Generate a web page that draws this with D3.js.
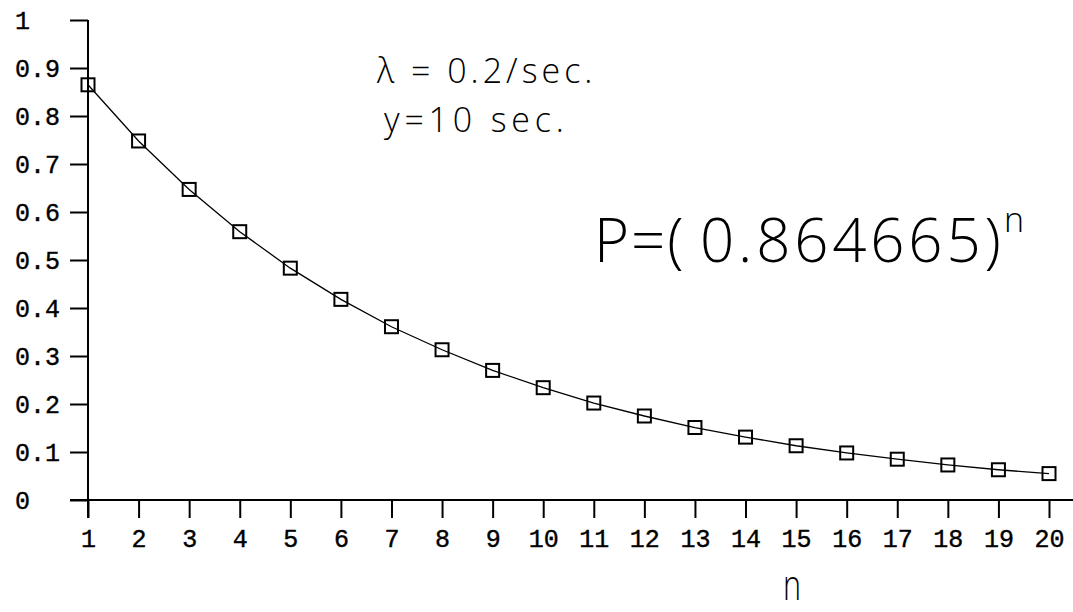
<!DOCTYPE html>
<html lang="en">
<head>
  <meta charset="UTF-8">
  <title>P = (0.864665)^n</title>
  <script src="https://d3js.org/d3.v7.min.js"></script>
  <style>
    body { margin: 0; background: #fff; }
    .tick text { font-family: "Liberation Mono", monospace; font-size: 25px; fill: #000; stroke: #000; stroke-width: 0.4px; }
    .note { font-family: "Open Sans", sans-serif; font-weight: 300; fill: #000; white-space: pre; }
  </style>
</head>
<body>
  <div id="chart"></div>

  <script>
    // values
    const nValues = [1, 2, 3, 4, 5, 6, 7, 8, 9, 10, 11, 12, 13, 14, 15, 16, 17, 18, 19, 20];
    const pValues = [0.865, 0.748, 0.647, 0.559, 0.483, 0.418, 0.361, 0.313, 0.270, 0.234,
                     0.202, 0.175, 0.151, 0.131, 0.113, 0.098, 0.085, 0.073, 0.063, 0.055];
    const yTicks = [0, 0.1, 0.2, 0.3, 0.4, 0.5, 0.6, 0.7, 0.8, 0.9, 1];
    const xTicks = nValues;

    const width = 1073;
    const height = 612;

    const x = d3.scaleLinear().domain([1, 20]).range([88, 1049]);
    const y = d3.scaleLinear().domain([0, 1]).range([500, 20]);

    const svg = d3.select("#chart")
      .append("svg")
      .attr("width", width)
      .attr("height", height);

    // axis lines (drawn past the plot like the original)
    svg.append("line")
      .attr("x1", 70).attr("x2", width)
      .attr("y1", y(0)).attr("y2", y(0))
      .attr("stroke", "#000").attr("stroke-width", 2);
    svg.append("line")
      .attr("x1", x(1)).attr("x2", x(1))
      .attr("y1", y(1)).attr("y2", y(0) + 18)
      .attr("stroke", "#000").attr("stroke-width", 2);

    // y axis
    const yAxis = svg.append("g")
      .attr("transform", "translate(" + x(1) + ",0)")
      .call(d3.axisLeft(y).tickValues(yTicks).tickSize(18).tickFormat(d => String(d)));
    yAxis.select(".domain").remove();
    yAxis.selectAll(".tick line").attr("stroke-width", 2);
    yAxis.selectAll(".tick text")
      .attr("x", 15 - x(1))
      .attr("dy", "0.32em")
      .attr("text-anchor", "start");

    // x axis
    const xAxis = svg.append("g")
      .attr("transform", "translate(0," + y(0) + ")")
      .call(d3.axisBottom(x).tickValues(xTicks).tickSize(18).tickFormat(d => String(d)));
    xAxis.select(".domain").remove();
    xAxis.selectAll(".tick line").attr("stroke-width", 2);
    xAxis.selectAll(".tick text").attr("y", 47).attr("dy", 0);

    const data = nValues.map((n, i) => ({ n: n, p: pValues[i] }));

    // curve
    svg.append("path")
      .datum(data)
      .attr("fill", "none")
      .attr("stroke", "#000")
      .attr("stroke-width", 1.3)
      .attr("d", d3.line().x(d => x(d.n)).y(d => y(d.p)));

    // square markers
    const s = 13;
    svg.selectAll("rect.marker")
      .data(data)
      .enter().append("rect")
      .attr("class", "marker")
      .attr("x", d => x(d.n) - s / 2)
      .attr("y", d => y(d.p) - s / 2)
      .attr("width", s)
      .attr("height", s)
      .attr("fill", "none")
      .attr("stroke", "#000")
      .attr("stroke-width", 2);

    // annotations
    svg.append("text").attr("class", "note")
      .attr("x", 377).attr("y", 83)
      .style("font-size", "34px")
      .style("letter-spacing", "4px")
      .text("λ = 0.2/sec.");
    svg.append("text").attr("class", "note")
      .attr("x", 384).attr("y", 132)
      .style("font-size", "34px")
      .style("letter-spacing", "4.8px")
      .text("y=10 sec.");

    const formula = svg.append("text").attr("class", "note")
      .attr("y", 262)
      .style("font-size", "60px");
    formula.append("tspan")
      .attr("x", 594)
      .style("letter-spacing", "2px")
      .text("P=(");
    formula.append("tspan")
      .attr("x", 700)
      .style("letter-spacing", "3.8px")
      .text("0.864665)");
    // exponent kept as its own text so it does not run into the parenthesis
    svg.append("text").attr("class", "note")
      .attr("x", 1004)
      .attr("y", 232)
      .style("font-size", "34px")
      .text("n");

    svg.append("text").attr("class", "note")
      .attr("transform", "translate(783,600) scale(0.9,1.25)")
      .style("font-size", "34px")
      .text("n");
  </script>
</body>
</html>
